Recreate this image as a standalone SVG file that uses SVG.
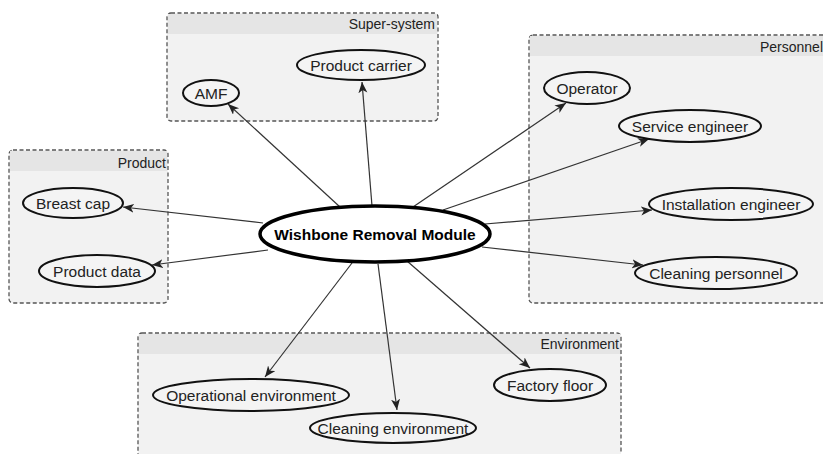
<svg xmlns="http://www.w3.org/2000/svg" width="823" height="454" viewBox="0 0 823 454">
<style>
.box{fill:#f2f2f2;stroke:#555;stroke-width:1.3;stroke-dasharray:4 2.5}
.hdr{fill:#e5e5e5}
.gt{font-family:"Liberation Sans",Arial,sans-serif;font-size:14px;fill:#222;text-anchor:end}
.nd{fill:#f4f4f4;stroke:#111;stroke-width:2}
.nt{font-family:"Liberation Sans",Arial,sans-serif;font-size:15.5px;fill:#222;text-anchor:middle}
.main{fill:#fff;stroke:#000;stroke-width:3.5}
.mt{font-family:"Liberation Sans",Arial,sans-serif;font-size:15.5px;font-weight:bold;fill:#000;text-anchor:middle}
.ed{stroke:#333;stroke-width:1.2;fill:none;marker-end:url(#ah)}
</style>
<defs>
<marker id="ah" markerUnits="userSpaceOnUse" markerWidth="12" markerHeight="10" refX="11" refY="4.5" orient="auto">
<path d="M0,0 L11,4.5 L0,9 L3,4.5 z" fill="#222"/>
</marker>
</defs>
<rect width="823" height="454" fill="#fff"/>
<g id="group-supersystem">
<rect class="box" x="167" y="13" width="271" height="108" rx="4"/>
<rect class="hdr" x="168" y="14" width="269" height="20"/>
<text class="gt" x="435" y="29">Super-system</text>
</g>
<g id="group-product">
<rect class="box" x="9" y="150" width="159" height="153" rx="4"/>
<rect class="hdr" x="10" y="151" width="157" height="20"/>
<text class="gt" x="166" y="168">Product</text>
</g>
<g id="group-personnel">
<rect class="box" x="529" y="35" width="310" height="268" rx="4"/>
<rect class="hdr" x="530" y="36" width="308" height="20"/>
<text class="gt" x="823" y="52">Personnel</text>
</g>
<g id="group-environment">
<rect class="box" x="138" y="333" width="483" height="130" rx="4"/>
<rect class="hdr" x="139" y="334" width="481" height="20"/>
<text class="gt" x="619" y="349">Environment</text>
</g>
<g id="connectors">
<line class="ed" x1="340" y1="207" x2="228" y2="104"/>
<line class="ed" x1="372" y1="206" x2="362" y2="82"/>
<line class="ed" x1="263" y1="223" x2="123" y2="207"/>
<line class="ed" x1="268" y1="250" x2="152" y2="265"/>
<line class="ed" x1="413" y1="207" x2="566" y2="103"/>
<line class="ed" x1="443" y1="210" x2="649" y2="139"/>
<line class="ed" x1="485" y1="224" x2="652" y2="210"/>
<line class="ed" x1="482" y1="247" x2="643" y2="265"/>
<line class="ed" x1="407" y1="261" x2="530" y2="368"/>
<line class="ed" x1="352" y1="263" x2="265" y2="377"/>
<line class="ed" x1="378" y1="264" x2="397" y2="410"/>
</g>
<g id="node-main">
<ellipse class="main" cx="375" cy="234" rx="115" ry="28"/>
<text class="mt" x="375" y="240">Wishbone Removal Module</text>
</g>
<g id="node-amf">
<ellipse class="nd" cx="211" cy="93" rx="28" ry="13"/>
<text class="nt" x="211" y="99">AMF</text>
</g>
<g id="node-product-carrier">
<ellipse class="nd" cx="361" cy="65" rx="64" ry="15"/>
<text class="nt" x="361" y="71">Product carrier</text>
</g>
<g id="node-breast-cap">
<ellipse class="nd" cx="73" cy="203" rx="50" ry="15"/>
<text class="nt" x="73" y="209">Breast cap</text>
</g>
<g id="node-product-data">
<ellipse class="nd" cx="97" cy="271" rx="58" ry="16"/>
<text class="nt" x="97" y="277">Product data</text>
</g>
<g id="node-operator">
<ellipse class="nd" cx="587" cy="88" rx="43" ry="16"/>
<text class="nt" x="587" y="94">Operator</text>
</g>
<g id="node-service-engineer">
<ellipse class="nd" cx="690" cy="126" rx="71" ry="16"/>
<text class="nt" x="690" y="132">Service engineer</text>
</g>
<g id="node-installation-engineer">
<ellipse class="nd" cx="731" cy="204" rx="82" ry="16"/>
<text class="nt" x="731" y="210">Installation engineer</text>
</g>
<g id="node-cleaning-personnel">
<ellipse class="nd" cx="716" cy="273" rx="81" ry="16"/>
<text class="nt" x="716" y="279">Cleaning personnel</text>
</g>
<g id="node-factory-floor">
<ellipse class="nd" cx="550" cy="385" rx="56" ry="16"/>
<text class="nt" x="550" y="391">Factory floor</text>
</g>
<g id="node-operational-environment">
<ellipse class="nd" cx="251" cy="395" rx="98" ry="16"/>
<text class="nt" x="251" y="401">Operational environment</text>
</g>
<g id="node-cleaning-environment">
<ellipse class="nd" cx="393" cy="428" rx="83" ry="15"/>
<text class="nt" x="393" y="434">Cleaning environment</text>
</g>
</svg>
